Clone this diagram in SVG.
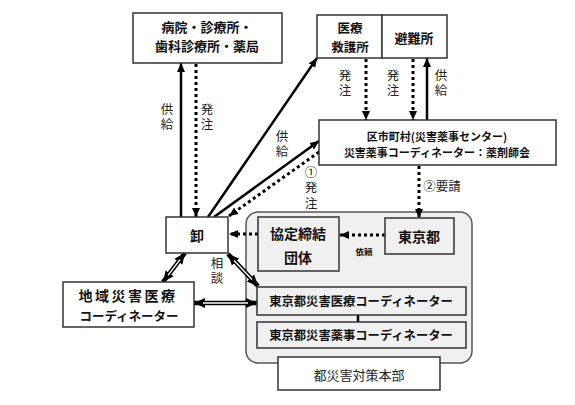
<svg xmlns="http://www.w3.org/2000/svg" width="575" height="405" viewBox="0 0 575 405">
<style>
.box{fill:#fff;stroke:#333;stroke-width:1.5}
.ibox{fill:#f0f0f0;stroke:#333;stroke-width:1.5}
.t{font-family:"Noto Sans CJK JP","Noto Sans",sans-serif;font-weight:bold;fill:#111;text-anchor:middle;dominant-baseline:central}
.l{font-family:"Noto Sans CJK JP","Noto Sans",sans-serif;fill:#222;font-size:12.5px;text-anchor:middle;dominant-baseline:central}
.v{font-family:"Noto Sans CJK JP","Noto Sans",sans-serif;fill:#222;font-size:12.5px;text-anchor:middle;writing-mode:vertical-rl;letter-spacing:3px}
.solid{stroke:#000;stroke-width:2.5;fill:none}
.dot{stroke:#000;stroke-width:3;stroke-dasharray:3 3;fill:none}
.dbl{stroke:#000;stroke-width:4.5;fill:none}
.dbw{stroke:#fff;stroke-width:1.4;fill:none}
</style>
<defs>
<marker id="ah" markerUnits="userSpaceOnUse" markerWidth="10" markerHeight="10" refX="9" refY="5" orient="auto">
<path d="M0,1 L9,5 L0,9 Z" fill="#000"/>
</marker>
<marker id="ah2" markerUnits="userSpaceOnUse" markerWidth="12" markerHeight="12" refX="11" refY="6" orient="auto-start-reverse">
<path d="M0,1 L11,6 L0,11 Z" fill="#000"/>
</marker>
</defs>
<rect width="575" height="405" fill="#fff"/>

<g id="panel">
<rect x="246" y="212" width="226" height="151" rx="12" fill="#f0f0f0" stroke="#555" stroke-width="1.5"/>
</g>

<g id="connectors">
<line class="solid" x1="181" y1="217" x2="181" y2="63" marker-end="url(#ah)"/>
<line class="dot" x1="196" y1="64" x2="196" y2="217" marker-end="url(#ah)"/>
<line class="solid" x1="208" y1="217" x2="317" y2="58" marker-end="url(#ah)"/>
<line class="solid" x1="214" y1="217" x2="319" y2="141" marker-end="url(#ah)"/>
<line class="dot" x1="319" y1="152" x2="229" y2="216" marker-end="url(#ah)"/>
<line class="dot" x1="366" y1="59" x2="366" y2="120" marker-end="url(#ah)"/>
<line class="dot" x1="413" y1="59" x2="413" y2="120" marker-end="url(#ah)"/>
<line class="solid" x1="427" y1="120" x2="427" y2="58" marker-end="url(#ah)"/>
<line class="dot" x1="419" y1="166" x2="419" y2="218" marker-end="url(#ah)"/>
<line class="dot" x1="385" y1="235" x2="340" y2="235" marker-end="url(#ah)"/>
<line class="dot" x1="258" y1="234" x2="229" y2="234" marker-end="url(#ah)"/>
<line class="dbl" x1="185" y1="253" x2="163" y2="282" marker-start="url(#ah2)" marker-end="url(#ah2)"/>
<line class="dbw" x1="180" y1="259.6" x2="168" y2="275.4"/>
<line class="dbl" x1="228" y1="254" x2="258" y2="286" marker-start="url(#ah2)" marker-end="url(#ah2)"/>
<line class="dbw" x1="234" y1="260.4" x2="252" y2="279.6"/>
<line class="dbl" x1="194" y1="303" x2="257" y2="303" marker-start="url(#ah2)" marker-end="url(#ah2)"/>
<line class="dbw" x1="203" y1="303" x2="248" y2="303"/>
<line x1="358" y1="315" x2="358" y2="322" stroke="#000" stroke-width="2.5"/>
</g>

<g id="labels">
<text class="v" x="167" y="118">供給</text>
<text class="v" x="207" y="118">発注</text>
<text class="v" x="282" y="145">供給</text>
<text class="v" x="311" y="189">①発注</text>
<text class="v" x="345" y="84">発注</text>
<text class="v" x="393" y="84">発注</text>
<text class="v" x="441" y="84">供給</text>
<text class="l" x="442" y="185">②要請</text>
<text class="v" x="217" y="272">相談</text>
<text class="t" x="364" y="251" font-size="8.5">依頼</text>
</g>

<g id="hospital">
<rect class="box" x="133" y="13" width="149" height="50"/>
<text class="t" x="207" y="26" font-size="13">病院・診療所・<tspan x="207" dy="19">歯科診療所・薬局</tspan></text>
</g>
<g id="kyugo">
<rect class="box" x="317" y="15" width="65" height="43"/>
<text class="t" x="350" y="27.5" font-size="12.5">医療<tspan x="350" dy="18.5">救護所</tspan></text>
</g>
<g id="hinan">
<rect class="box" x="382" y="15" width="65" height="43"/>
<text class="t" x="414" y="37" font-size="13">避難所</text>
</g>
<g id="kushichoson">
<rect class="box" x="319" y="120" width="237" height="45"/>
<text class="t" x="437" y="136" font-size="11">区市町村(災害薬事センター)<tspan x="437" dy="16">災害薬事コーディネーター：薬剤師会</tspan></text>
</g>
<g id="oroshi">
<rect class="box" x="166" y="217" width="62" height="36"/>
<text class="t" x="197" y="235" font-size="14">卸</text>
</g>
<g id="kyotei">
<rect class="ibox" x="258" y="217" width="81" height="54"/>
<text class="t" x="298" y="233" font-size="14">協定締結<tspan x="298" dy="24">団体</tspan></text>
</g>
<g id="tokyo">
<rect class="ibox" x="385" y="218" width="69" height="36"/>
<text class="t" x="419" y="236" font-size="14">東京都</text>
</g>
<g id="iryo-coord">
<rect class="ibox" x="257" y="287" width="209" height="28"/>
<text class="t" x="361" y="301" font-size="12.3">東京都災害医療コーディネーター</text>
</g>
<g id="yakuji-coord">
<rect class="ibox" x="257" y="322" width="209" height="26"/>
<text class="t" x="361" y="335" font-size="12.3">東京都災害薬事コーディネーター</text>
</g>
<g id="honbu">
<rect class="box" x="278" y="357" width="162" height="33"/>
<text class="l" x="359" y="374" style="font-size:13px">都災害対策本部</text>
</g>
<g id="chiiki">
<rect class="box" x="63" y="282" width="131" height="45"/>
<text class="t" x="128" y="295" font-size="14"><tspan letter-spacing="2.5">地域災害医療</tspan><tspan x="129" dy="20" font-size="12.5">コーディネーター</tspan></text>
</g>
</svg>
